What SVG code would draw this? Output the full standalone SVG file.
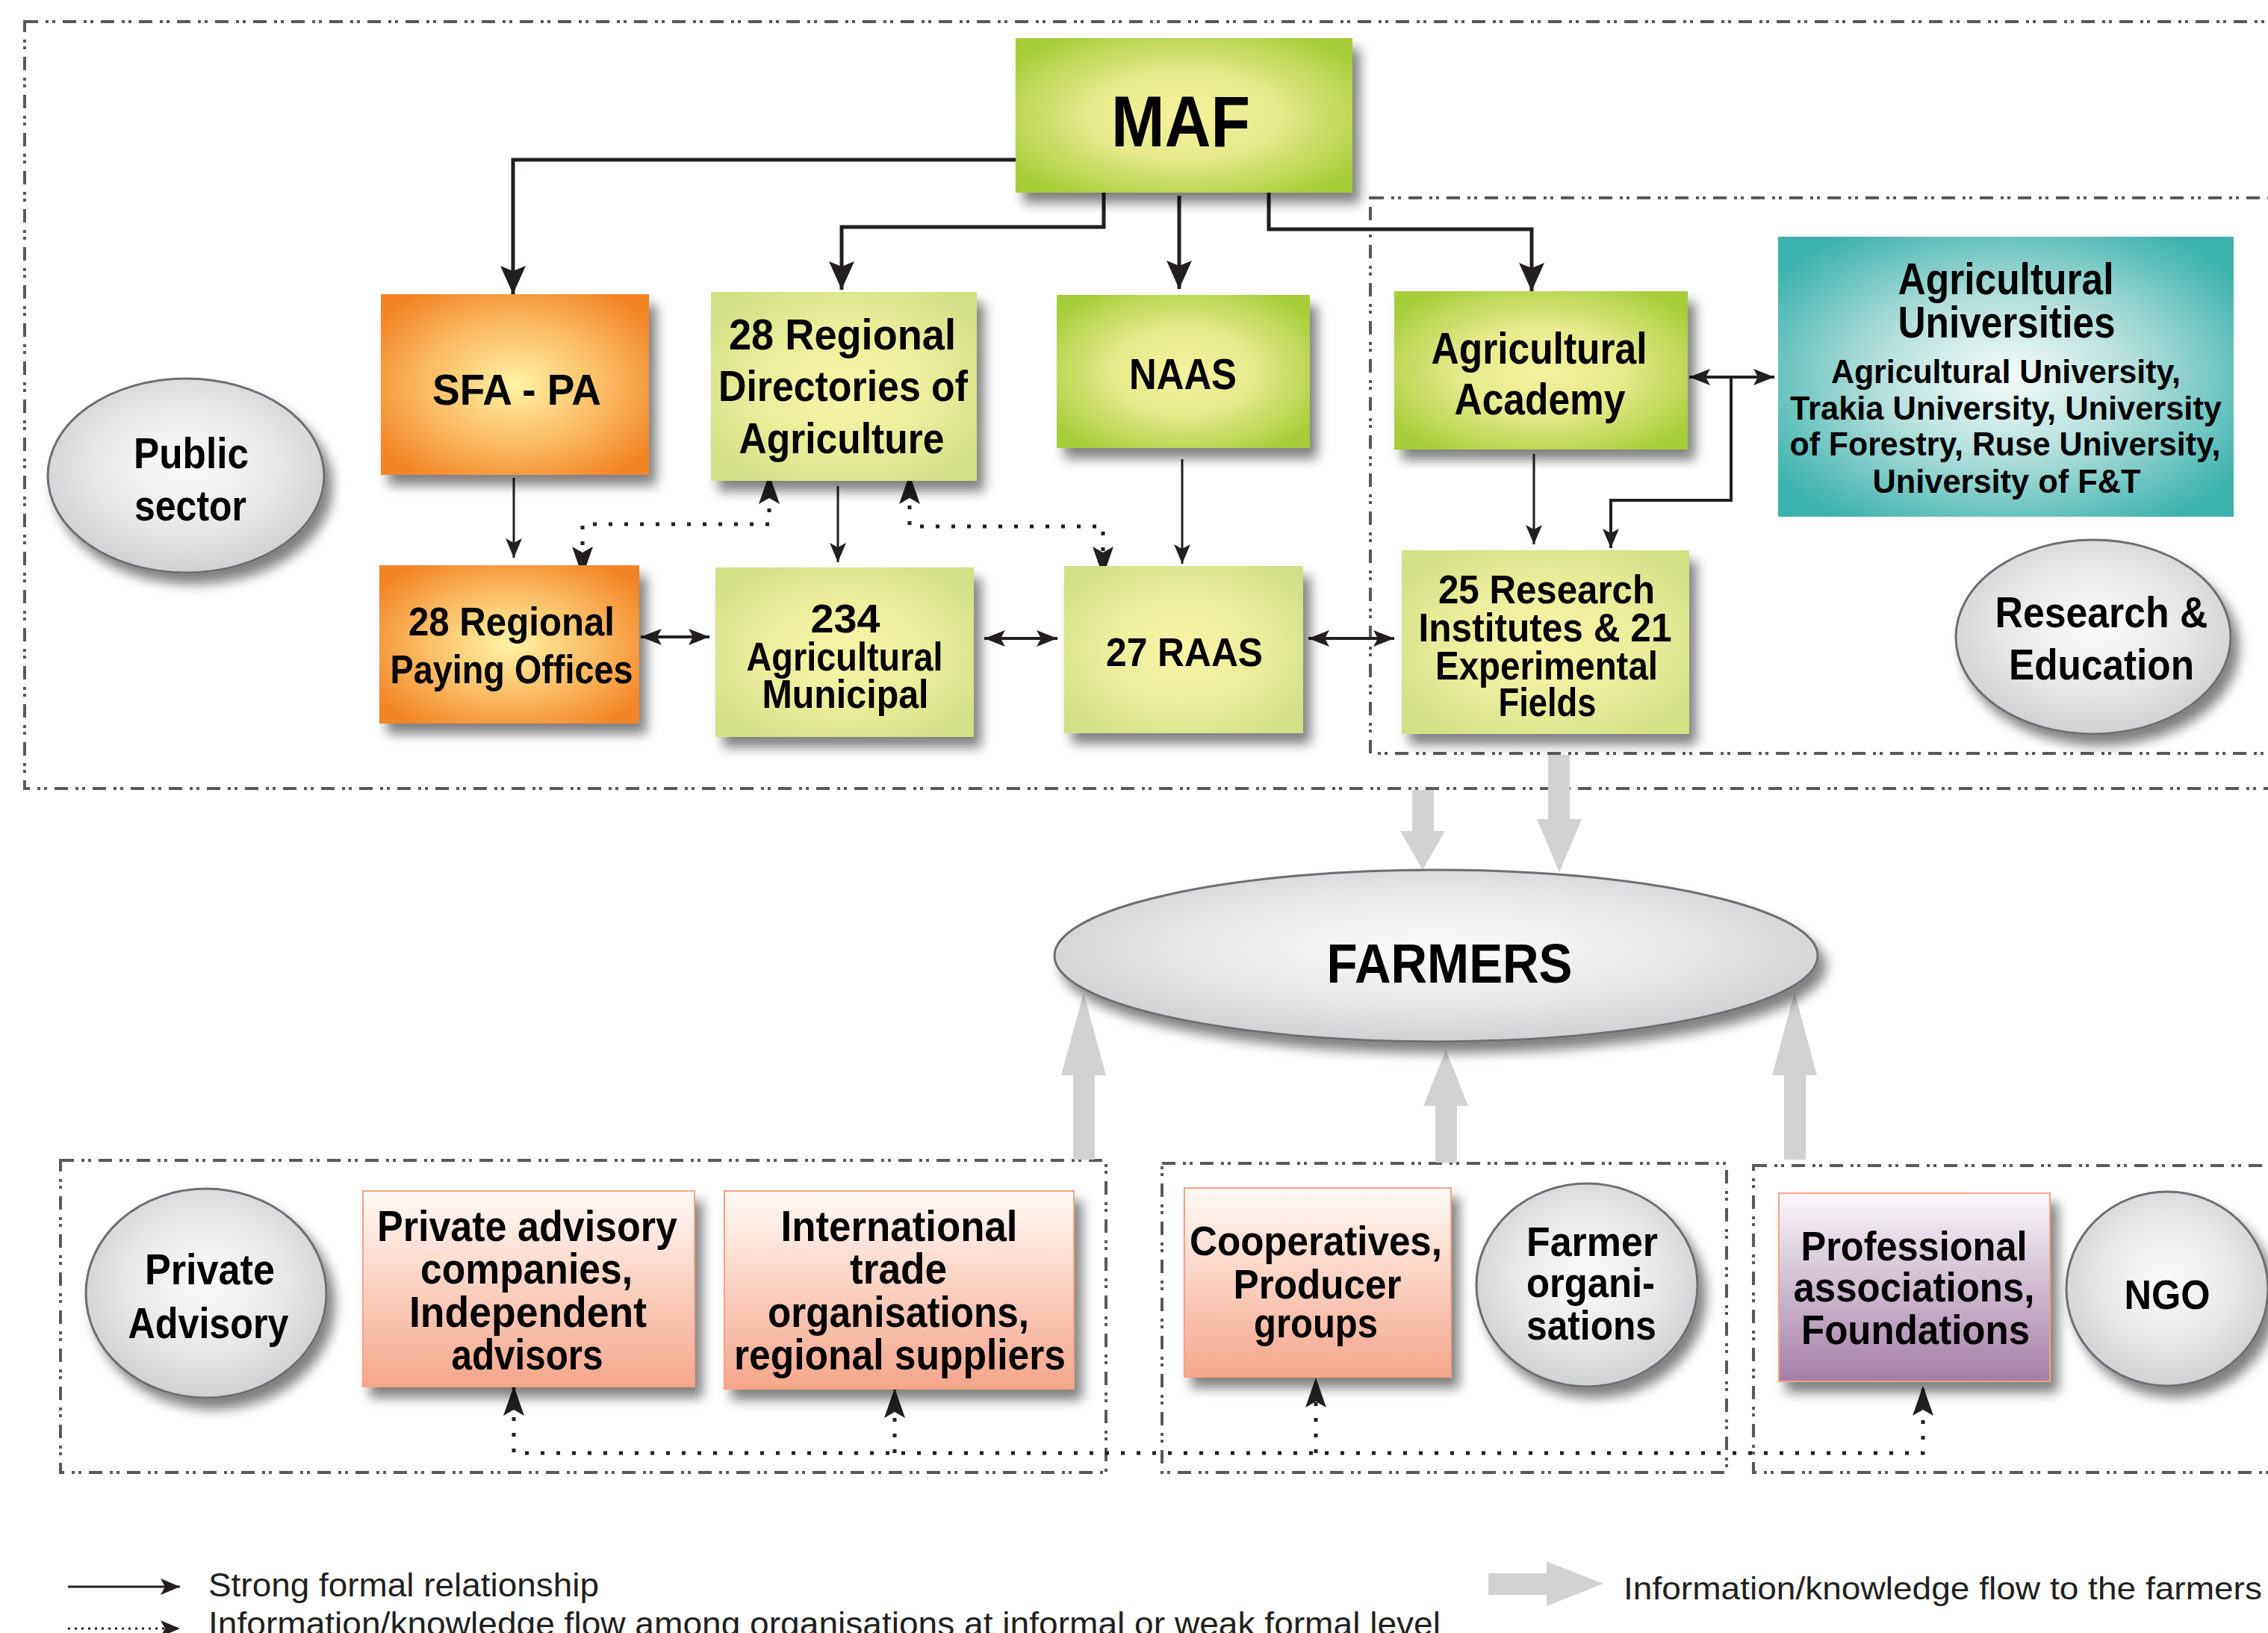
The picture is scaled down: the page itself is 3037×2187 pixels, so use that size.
<svg xmlns="http://www.w3.org/2000/svg" width="3037" height="2187" viewBox="0 0 3037 2187">
<style>
.t{font-family:"Liberation Sans","DejaVu Sans",sans-serif;font-weight:bold;fill:#000;text-anchor:middle}
.lg{font-family:"Liberation Sans","DejaVu Sans",sans-serif;font-weight:normal;fill:#231f20}
.grp{fill:none;stroke:#58595b;stroke-width:4;stroke-dasharray:18 10 4 5 4 10}
.c1{fill:none;stroke:#231f20;stroke-width:5}
.c2{fill:none;stroke:#231f20;stroke-width:3}
.c3{fill:none;stroke:#231f20;stroke-width:4}
.dot{fill:none;stroke:#231f20;stroke-width:5;stroke-dasharray:5 16}
.ga{fill:#d1d2d4}
.ell{stroke:#6d6e71;stroke-width:3;fill:url(#gGray)}
</style>
<defs>
<filter id="sh" x="-20%" y="-20%" width="150%" height="150%">
<feGaussianBlur in="SourceAlpha" stdDeviation="8"/>
<feOffset dx="10" dy="14"/>
<feComponentTransfer><feFuncA type="linear" slope="0.5"/></feComponentTransfer>
<feMerge><feMergeNode/><feMergeNode in="SourceGraphic"/></feMerge>
</filter>
<radialGradient id="gMaf" cx="50%" cy="50%" r="62%"><stop offset="0" stop-color="#f5f29e"/><stop offset="0.45" stop-color="#e6ea8c"/><stop offset="1" stop-color="#a6cc38"/></radialGradient>
<radialGradient id="gLg" cx="50%" cy="50%" r="62%"><stop offset="0" stop-color="#f8f4a6"/><stop offset="0.5" stop-color="#ecee9c"/><stop offset="1" stop-color="#d2e086"/></radialGradient>
<radialGradient id="gOr" cx="50%" cy="50%" r="62%"><stop offset="0" stop-color="#fff3a6"/><stop offset="0.45" stop-color="#fcc46e"/><stop offset="1" stop-color="#f38426"/></radialGradient>
<radialGradient id="gTeal" cx="50%" cy="50%" r="62%"><stop offset="0" stop-color="#f6fbfa"/><stop offset="0.45" stop-color="#b5e0dc"/><stop offset="1" stop-color="#3bb2ac"/></radialGradient>
<radialGradient id="gGray" cx="50%" cy="45%" r="55%"><stop offset="0" stop-color="#fbfbfb"/><stop offset="0.6" stop-color="#e6e7e8"/><stop offset="1" stop-color="#cfd1d3"/></radialGradient>
<linearGradient id="gPink" x1="0" y1="0" x2="0" y2="1"><stop offset="0" stop-color="#fffaf7"/><stop offset="1" stop-color="#f5a68a"/></linearGradient>
<linearGradient id="gPur" x1="0" y1="0" x2="0" y2="1"><stop offset="0" stop-color="#fbf8fb"/><stop offset="1" stop-color="#a37ea5"/></linearGradient>
<marker id="aBig" markerUnits="userSpaceOnUse" markerWidth="40" markerHeight="36" viewBox="-40 -18 40 36" refX="0" refY="0" orient="auto"><path d="M0,0 L-38,-17 L-31,0 L-38,17 Z" fill="#231f20"/></marker>
<marker id="aSm" markerUnits="userSpaceOnUse" markerWidth="28" markerHeight="24" viewBox="-28 -12 28 24" refX="0" refY="0" orient="auto"><path d="M0,0 L-26,-11 L-20,0 L-26,11 Z" fill="#231f20"/></marker>
<marker id="aDb" markerUnits="userSpaceOnUse" markerWidth="30" markerHeight="24" viewBox="-30 -12 30 24" refX="0" refY="0" orient="auto-start-reverse"><path d="M0,0 L-28,-11 L-22,0 L-28,11 Z" fill="#231f20"/></marker>
<marker id="aDot" markerUnits="userSpaceOnUse" markerWidth="42" markerHeight="30" viewBox="-42 -15 42 30" refX="0" refY="0" orient="auto-start-reverse"><path d="M0,0 L-40,-14 L-32,0 L-40,14 Z" fill="#231f20"/></marker>
</defs>
<rect width="3037" height="2187" fill="#fff"/>

<g id="groups">
<rect class="grp" x="33" y="29" width="3060" height="1027"/>
<rect class="grp" x="1835" y="265" width="1260" height="744"/>
<rect class="grp" x="81" y="1554" width="1400" height="418"/>
<rect class="grp" x="1556" y="1558" width="756" height="414"/>
<rect class="grp" x="2348" y="1561" width="740" height="411"/>
</g>

<g id="connectors">
<g id="flow-arrows">
<polygon class="ga" points="1891,1058 1920,1058 1920,1113 1935,1113 1905,1165 1875,1113 1891,1113"/>
<polygon class="ga" points="2073,1011 2102,1011 2102,1097 2118,1097 2088,1168 2058,1097 2073,1097"/>
<polygon class="ga" points="1437,1553 1466,1553 1466,1440 1481,1440 1451,1330 1421,1440 1437,1440"/>
<polygon class="ga" points="1922,1557 1951,1557 1951,1481 1966,1481 1936,1406 1906,1481 1922,1481"/>
<polygon class="ga" points="2389,1553 2418,1553 2418,1440 2433,1440 2403,1329 2373,1440 2389,1440"/>
</g>
<path class="c1" d="M1360,214 H687 V394" marker-end="url(#aBig)"/>
<path class="c1" d="M1478,258 V304 H1127 V388" marker-end="url(#aBig)"/>
<path class="c1" d="M1579,262 V387" marker-end="url(#aBig)"/>
<path class="c1" d="M1699,255 V307 H2051 V390" marker-end="url(#aBig)"/>
<path class="c2" d="M688,640 V747" marker-end="url(#aSm)"/>
<path class="c2" d="M1122,651 V753" marker-end="url(#aSm)"/>
<path class="c2" d="M1583,615 V755" marker-end="url(#aSm)"/>
<path class="c2" d="M2054,608 V729" marker-end="url(#aSm)"/>
<path class="c3" d="M2318,505 V670 H2157 V734" marker-end="url(#aSm)"/>
<path class="c3" d="M2262,505 H2376" marker-start="url(#aDb)" marker-end="url(#aDb)"/>
<path class="c3" d="M858,853 H950" marker-start="url(#aDb)" marker-end="url(#aDb)"/>
<path class="c3" d="M1318,855 H1416" marker-start="url(#aDb)" marker-end="url(#aDb)"/>
<path class="c3" d="M1752,855 H1867" marker-start="url(#aDb)" marker-end="url(#aDb)"/>
<path class="dot" d="M780,772 V702 H1030 V635" marker-start="url(#aDot)" marker-end="url(#aDot)"/>
<path class="dot" d="M1218,635 V705 H1477 V772" marker-start="url(#aDot)" marker-end="url(#aDot)"/>
<path class="dot" d="M688,1856 V1946 H2575 V1856" marker-start="url(#aDot)" marker-end="url(#aDot)"/>
<path class="dot" d="M1198,1946 V1859" marker-end="url(#aDot)"/>
<path class="dot" d="M1762,1946 V1845" marker-end="url(#aDot)"/>
</g>

<g id="n-public"><ellipse class="ell" filter="url(#sh)" cx="249" cy="637" rx="185" ry="130"/>
<text class="t" font-size="58" x="256" y="627" textLength="154" lengthAdjust="spacingAndGlyphs">Public</text>
<text class="t" font-size="58" x="255" y="697" textLength="150" lengthAdjust="spacingAndGlyphs">sector</text></g>

<g id="n-maf"><rect filter="url(#sh)" x="1360" y="51" width="451" height="207" fill="url(#gMaf)"/>
<text class="t" font-size="96" x="1581" y="196" textLength="186" lengthAdjust="spacingAndGlyphs">MAF</text></g>

<g id="n-sfa"><rect filter="url(#sh)" x="510" y="394" width="359" height="242" fill="url(#gOr)"/>
<text class="t" font-size="58" x="692" y="542" textLength="226" lengthAdjust="spacingAndGlyphs">SFA - PA</text></g>

<g id="n-rda"><rect filter="url(#sh)" x="952" y="391" width="356" height="253" fill="url(#gLg)"/>
<text class="t" font-size="58" x="1128" y="468" textLength="304" lengthAdjust="spacingAndGlyphs">28 Regional</text>
<text class="t" font-size="58" x="1129" y="537" textLength="334" lengthAdjust="spacingAndGlyphs">Directories of</text>
<text class="t" font-size="58" x="1127" y="607" textLength="275" lengthAdjust="spacingAndGlyphs">Agriculture</text></g>

<g id="n-naas"><rect filter="url(#sh)" x="1415" y="395" width="339" height="205" fill="url(#gMaf)"/>
<text class="t" font-size="58" x="1584" y="521" textLength="144" lengthAdjust="spacingAndGlyphs">NAAS</text></g>

<g id="n-academy"><rect filter="url(#sh)" x="1867" y="390" width="393" height="212" fill="url(#gMaf)"/>
<text class="t" font-size="60" x="2061" y="487" textLength="289" lengthAdjust="spacingAndGlyphs">Agricultural</text>
<text class="t" font-size="60" x="2062" y="555" textLength="229" lengthAdjust="spacingAndGlyphs">Academy</text></g>

<g id="n-univ"><rect x="2381" y="317" width="610" height="375" fill="url(#gTeal)"/>
<text class="t" font-size="60" x="2686" y="394" textLength="289" lengthAdjust="spacingAndGlyphs">Agricultural</text>
<text class="t" font-size="60" x="2687" y="452" textLength="291" lengthAdjust="spacingAndGlyphs">Universities</text>
<text class="t" font-size="44" x="2686" y="513" textLength="468" lengthAdjust="spacingAndGlyphs">Agricultural University,</text>
<text class="t" font-size="44" x="2686" y="562" textLength="578" lengthAdjust="spacingAndGlyphs">Trakia University, University</text>
<text class="t" font-size="44" x="2685" y="610" textLength="577" lengthAdjust="spacingAndGlyphs">of Forestry, Ruse University,</text>
<text class="t" font-size="44" x="2687" y="660" textLength="359" lengthAdjust="spacingAndGlyphs">University of F&amp;T</text></g>

<g id="n-paying"><rect filter="url(#sh)" x="508" y="757" width="348" height="212" fill="url(#gOr)"/>
<text class="t" font-size="53" x="685" y="851" textLength="276" lengthAdjust="spacingAndGlyphs">28 Regional</text>
<text class="t" font-size="53" x="685" y="915" textLength="325" lengthAdjust="spacingAndGlyphs">Paying Offices</text></g>

<g id="n-municipal"><rect filter="url(#sh)" x="958" y="760" width="346" height="227" fill="url(#gLg)"/>
<text class="t" font-size="53" x="1132" y="847" textLength="93" lengthAdjust="spacingAndGlyphs">234</text>
<text class="t" font-size="53" x="1131" y="898" textLength="263" lengthAdjust="spacingAndGlyphs">Agricultural</text>
<text class="t" font-size="53" x="1132" y="948" textLength="223" lengthAdjust="spacingAndGlyphs">Municipal</text></g>

<g id="n-raas"><rect filter="url(#sh)" x="1425" y="758" width="320" height="224" fill="url(#gLg)"/>
<text class="t" font-size="53" x="1586" y="892" textLength="210" lengthAdjust="spacingAndGlyphs">27 RAAS</text></g>

<g id="n-research"><rect filter="url(#sh)" x="1877" y="737" width="385" height="246" fill="url(#gLg)"/>
<text class="t" font-size="53" x="2071" y="808" textLength="290" lengthAdjust="spacingAndGlyphs">25 Research</text>
<text class="t" font-size="53" x="2069" y="859" textLength="339" lengthAdjust="spacingAndGlyphs">Institutes &amp; 21</text>
<text class="t" font-size="53" x="2071" y="910" textLength="298" lengthAdjust="spacingAndGlyphs">Experimental</text>
<text class="t" font-size="53" x="2072" y="959" textLength="131" lengthAdjust="spacingAndGlyphs">Fields</text></g>

<g id="n-reseducation"><ellipse class="ell" filter="url(#sh)" cx="2803" cy="853" rx="184" ry="130"/>
<text class="t" font-size="58" x="2814" y="840" textLength="285" lengthAdjust="spacingAndGlyphs">Research &amp;</text>
<text class="t" font-size="58" x="2814" y="910" textLength="248" lengthAdjust="spacingAndGlyphs">Education</text></g>

<g id="n-farmers"><ellipse class="ell" filter="url(#sh)" cx="1923" cy="1280" rx="511" ry="115"/>
<text class="t" font-size="75" x="1941" y="1316" textLength="329" lengthAdjust="spacingAndGlyphs">FARMERS</text></g>

<g id="n-privadv"><ellipse class="ell" filter="url(#sh)" cx="276" cy="1732" rx="161" ry="140"/>
<text class="t" font-size="57" x="281" y="1720" textLength="174" lengthAdjust="spacingAndGlyphs">Private</text>
<text class="t" font-size="57" x="279" y="1792" textLength="215" lengthAdjust="spacingAndGlyphs">Advisory</text></g>

<g id="n-pac"><rect filter="url(#sh)" x="486" y="1595" width="444" height="262" fill="url(#gPink)" stroke="#f4a486" stroke-width="2"/>
<text class="t" font-size="57" x="706" y="1662" textLength="402" lengthAdjust="spacingAndGlyphs">Private advisory</text>
<text class="t" font-size="57" x="705" y="1719" textLength="284" lengthAdjust="spacingAndGlyphs">companies,</text>
<text class="t" font-size="57" x="707" y="1777" textLength="318" lengthAdjust="spacingAndGlyphs">Independent</text>
<text class="t" font-size="57" x="706" y="1834" textLength="203" lengthAdjust="spacingAndGlyphs">advisors</text></g>

<g id="n-intl"><rect filter="url(#sh)" x="970" y="1595" width="468" height="265" fill="url(#gPink)" stroke="#f4a486" stroke-width="2"/>
<text class="t" font-size="57" x="1204" y="1662" textLength="317" lengthAdjust="spacingAndGlyphs">International</text>
<text class="t" font-size="57" x="1203" y="1719" textLength="130" lengthAdjust="spacingAndGlyphs">trade</text>
<text class="t" font-size="57" x="1203" y="1777" textLength="350" lengthAdjust="spacingAndGlyphs">organisations,</text>
<text class="t" font-size="57" x="1205" y="1834" textLength="444" lengthAdjust="spacingAndGlyphs">regional suppliers</text></g>

<g id="n-coop"><rect filter="url(#sh)" x="1586" y="1591" width="357" height="253" fill="url(#gPink)" stroke="#f4a486" stroke-width="2"/>
<text class="t" font-size="55" x="1762" y="1681" textLength="338" lengthAdjust="spacingAndGlyphs">Cooperatives,</text>
<text class="t" font-size="55" x="1764" y="1739" textLength="225" lengthAdjust="spacingAndGlyphs">Producer</text>
<text class="t" font-size="55" x="1762" y="1791" textLength="166" lengthAdjust="spacingAndGlyphs">groups</text></g>

<g id="n-farmerorg"><ellipse class="ell" filter="url(#sh)" cx="2125" cy="1721" rx="148" ry="136"/>
<text class="t" font-size="55" x="2132" y="1682" textLength="176" lengthAdjust="spacingAndGlyphs">Farmer</text>
<text class="t" font-size="55" x="2130" y="1737" textLength="172" lengthAdjust="spacingAndGlyphs">organi-</text>
<text class="t" font-size="55" x="2131" y="1794" textLength="174" lengthAdjust="spacingAndGlyphs">sations</text></g>

<g id="n-prof"><rect filter="url(#sh)" x="2382" y="1598" width="363" height="252" fill="url(#gPur)" stroke="#f4a486" stroke-width="2"/>
<text class="t" font-size="55" x="2563" y="1688" textLength="303" lengthAdjust="spacingAndGlyphs">Professional</text>
<text class="t" font-size="55" x="2563" y="1743" textLength="323" lengthAdjust="spacingAndGlyphs">associations,</text>
<text class="t" font-size="55" x="2565" y="1800" textLength="306" lengthAdjust="spacingAndGlyphs">Foundations</text></g>

<g id="n-ngo"><ellipse class="ell" filter="url(#sh)" cx="2902" cy="1726" rx="135" ry="130"/>
<text class="t" font-size="55" x="2902" y="1753" textLength="115" lengthAdjust="spacingAndGlyphs">NGO</text></g>

<g id="legend">
<line x1="91" y1="2125" x2="241" y2="2125" class="c2" marker-end="url(#aSm)"/>
<text class="lg" font-size="44" x="279" y="2138" textLength="523" lengthAdjust="spacingAndGlyphs">Strong formal relationship</text>
<line x1="91" y1="2181" x2="241" y2="2181" stroke="#231f20" stroke-width="3" stroke-dasharray="3 6" marker-end="url(#aSm)"/>
<text class="lg" font-size="44" x="279" y="2190" textLength="1650" lengthAdjust="spacingAndGlyphs">Information/knowledge flow among organisations at informal or weak formal level</text>
<polygon class="ga" points="1993,2107 2071,2107 2071,2091 2147,2121 2071,2151 2071,2136 1993,2136"/>
<text class="lg" font-size="42" x="2174" y="2142" textLength="855" lengthAdjust="spacingAndGlyphs">Information/knowledge flow to the farmers</text>
</g>
</svg>
